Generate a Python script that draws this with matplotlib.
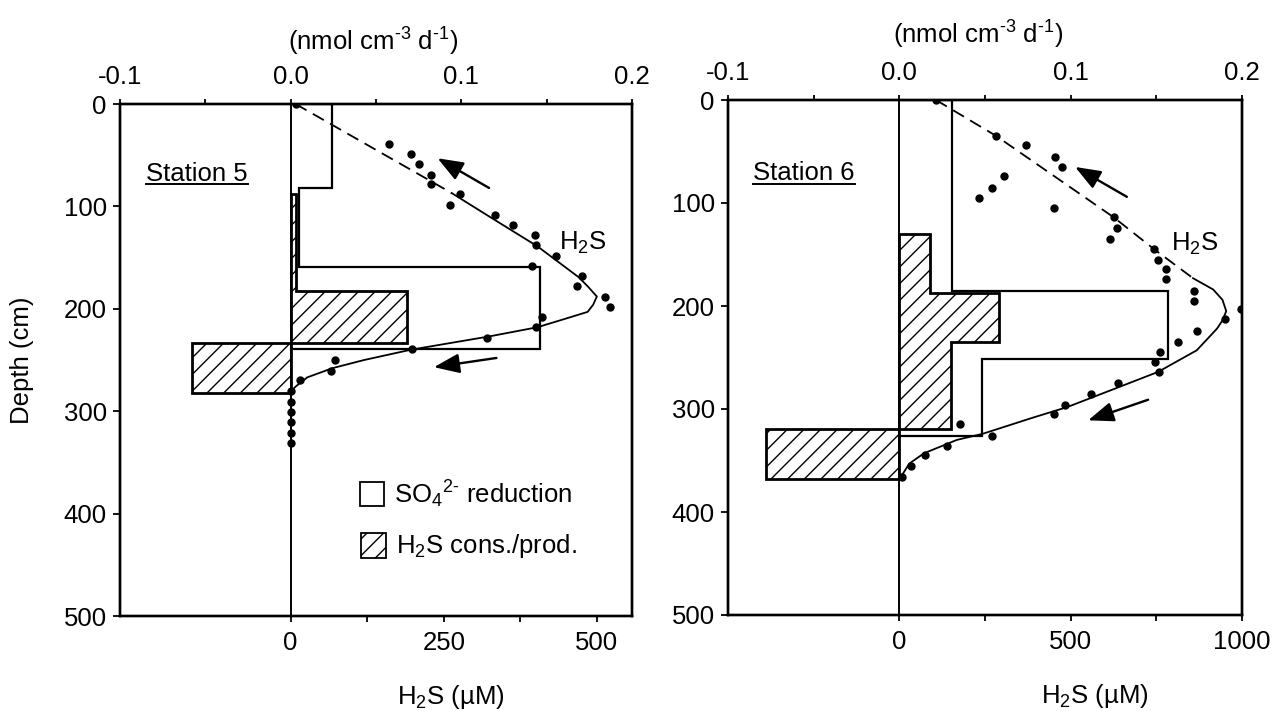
import matplotlib
matplotlib.use('Agg')
import matplotlib.pyplot as plt
from matplotlib.lines import Line2D
from matplotlib.patches import Rectangle

plt.rcParams['font.family'] = ['Liberation Sans', 'DejaVu Sans']
plt.rcParams['mathtext.fontset'] = 'custom'
plt.rcParams['mathtext.rm'] = 'Liberation Sans'
plt.rcParams['mathtext.it'] = 'Liberation Sans:italic'
plt.rcParams['mathtext.bf'] = 'Liberation Sans:bold'
plt.rcParams['mathtext.sf'] = 'Liberation Sans'
plt.rcParams['mathtext.default'] = 'regular'
plt.rcParams['axes.unicode_minus'] = False
plt.rcParams['hatch.linewidth'] = 1.0

# ------------------------------------------------------------------ data
depth_ticks = [0, 100, 200, 300, 400, 500]
rate_ticks = [-0.1, 0.0, 0.1, 0.2]
rate_ticklabels = ['-0.1', '0.0', '0.1', '0.2']
rate_minor = [-0.05, 0.05, 0.15]

# Station 5
s5_name = 'Station 5'
s5_h2s_ticks = [0, 250, 500]
s5_h2s_minor = [125, 375]
s5_pts_depth = [0, 39, 49, 59, 69, 78, 88, 99, 108, 118, 128, 138, 148, 158, 168,
                178, 188, 198, 208, 218, 229, 239, 250, 261, 270, 280, 291, 301,
                311, 321, 331]
s5_pts_h2s = [8, 161, 196, 210, 229, 229, 276, 261, 334, 363, 399, 401, 434, 394,
              475, 468, 514, 521, 410, 401, 321, 198, 73, 66, 16, 0, 0, 0, 0, 0, 0]
s5_dash_depth = [0, 87]
s5_dash_h2s = [8, 263]
s5_fit_depth = [87, 112, 139, 169, 178, 188, 196, 203, 210, 218, 227, 240, 250,
                258, 267, 276, 281]
s5_fit_h2s = [263, 330, 403, 470, 485, 500, 494, 485, 447, 403, 324, 196, 120,
              68, 27, 8, 0]
s5_so4_bounds = [0, 82, 159, 239]
s5_so4_rate = [0.024, 0.005, 0.146]
s5_prod_bounds = [88, 183, 233, 282]
s5_prod_rate = [0.003, 0.068, -0.058]

# Station 6
s6_name = 'Station 6'
s6_h2s_ticks = [0, 500, 1000]
s6_h2s_minor = [250, 750]
s6_pts_depth = [0, 35, 44, 55, 65, 74, 85, 95, 105, 114, 124, 135, 145, 155, 164,
                174, 185, 195, 203, 213, 224, 235, 245, 254, 264, 275, 285, 296,
                305, 315, 326, 336, 345, 355, 366]
s6_pts_h2s = [107, 283, 370, 454, 475, 304, 269, 233, 451, 626, 635, 615, 744, 755,
              777, 777, 861, 861, 997, 951, 870, 814, 760, 746, 758, 637, 559, 483,
              451, 177, 271, 138, 75, 34, 9]
s6_dash_depth = [0, 35, 114, 145, 173]
s6_dash_h2s = [107, 283, 626, 744, 857]
s6_fit_depth = [173, 184, 194, 205, 214, 222, 243, 264, 280, 298, 309, 324, 330,
                343, 353, 362, 367]
s6_fit_h2s = [857, 916, 943, 954, 943, 927, 868, 755, 631, 491, 384, 244, 168,
              72, 29, 12, 0]
s6_so4_bounds = [0, 185, 251, 326]
s6_so4_rate = [0.031, 0.157, 0.048]
s6_prod_bounds = [130, 187, 235, 319, 368]
s6_prod_rate = [0.018, 0.058, 0.030, -0.078]

FS = 18.5


def step_xy(bounds, rates):
    xs = [0.0]
    ys = [bounds[0]]
    for i, r in enumerate(rates):
        xs += [r, r]
        ys += [bounds[i], bounds[i + 1]]
    xs.append(0.0)
    ys.append(bounds[-1])
    return xs, ys


fig = plt.figure(figsize=(12.75, 7.11), dpi=100)

TOP_LABEL = r'(nmol cm$^{\text{-3}}$ d$^{\text{-1}}$)'


def panel(rect, h2s_lim, h2s_ticks, h2s_minor, pts_d, pts_c, dash_d, dash_c,
          fit_d, fit_c, so4_b, so4_r, prod_b, prod_r, name, name_xy,
          h2s_text_xy, arrows, xlabel_x, toplabel_xy, ylabel):
    ax = fig.add_axes(rect)
    ax2 = ax.twiny()
    ax.set_zorder(ax2.get_zorder() + 1)
    ax.patch.set_visible(False)

    # rate axis (top)
    ax2.set_xlim(-0.1, 0.2)
    ax2.set_ylim(500, 0)
    xs, ys = step_xy(so4_b, so4_r)
    ax2.plot(xs, ys, color='black', lw=1.6, solid_joinstyle='miter')
    xs, ys = step_xy(prod_b, prod_r)
    ax2.fill(xs, ys, facecolor='white', edgecolor='black', hatch='//', lw=2.0)
    ax2.set_xticks(rate_ticks)
    ax2.set_xticklabels(rate_ticklabels)
    ax2.set_xticks(rate_minor, minor=True)
    ax2.tick_params(axis='x', which='both', direction='out', length=3.5,
                    width=1.3, labelsize=FS, pad=7)
    ax2.set_xlabel(TOP_LABEL, fontsize=FS)
    ax2.xaxis.set_label_coords(*toplabel_xy)

    # concentration axis (bottom)
    ax.set_xlim(*h2s_lim)
    ax.set_ylim(500, 0)
    ax.axvline(0, color='black', lw=1.4)
    ax.plot(dash_c, dash_d, color='black', lw=1.3, linestyle=(0, (7, 4)))
    ax.plot(fit_c, fit_d, color='black', lw=1.3)
    ax.plot(pts_c, pts_d, 'o', color='black', ms=5, linestyle='none')
    ax.set_xticks(h2s_ticks)
    ax.set_xticks(h2s_minor, minor=True)
    ax.set_yticks(depth_ticks)
    ax.tick_params(axis='x', which='both', direction='out', length=4.5,
                   width=1.3, labelsize=FS, pad=6.5)
    ax.tick_params(axis='y', direction='out', length=5, width=1.3,
                   labelsize=FS, pad=4.5)
    ax.tick_params(top=False, right=False)
    ax.set_xlabel('H$_2$S (µM)', fontsize=FS)
    ax.xaxis.set_label_coords(xlabel_x, -0.13)
    if ylabel:
        ax.set_ylabel('Depth (cm)', fontsize=FS)
        ax.yaxis.set_label_coords(-0.168, 0.5)
    for a in (ax, ax2):
        for s in a.spines.values():
            s.set_linewidth(1.7)

    # annotations
    ax.text(h2s_text_xy[0], h2s_text_xy[1], 'H$_2$S', fontsize=FS,
            ha='left', va='baseline')
    for (tx, ty, hx, hy) in arrows:
        ax.annotate('', xy=(hx, hy), xytext=(tx, ty),
                    arrowprops=dict(arrowstyle='-|>,head_length=1.3,head_width=0.5',
                                    mutation_scale=12, lw=1.7, color='black',
                                    shrinkA=0, shrinkB=0))
    t = ax.text(name_xy[0], name_xy[1], name, fontsize=FS, ha='left',
                va='baseline', transform=ax.transAxes)
    return ax, t


ax5, t5 = panel([120 / 1275, 95 / 711, 512 / 1275, 512 / 711],
                (-278.7, 557.4), s5_h2s_ticks, s5_h2s_minor,
                s5_pts_depth, s5_pts_h2s, s5_dash_depth, s5_dash_h2s,
                s5_fit_depth, s5_fit_h2s, s5_so4_bounds, s5_so4_rate,
                s5_prod_bounds, s5_prod_rate, s5_name, (0.0516, 0.8496),
                (438, 142), [(324, 82, 240, 53), (336, 248, 234, 257)],
                0.646, (0.494, 1.105), True)

ax6, t6 = panel([728 / 1275, 96 / 711, 514 / 1275, 515 / 711],
                (-500, 1000), s6_h2s_ticks, s6_h2s_minor,
                s6_pts_depth, s6_pts_h2s, s6_dash_depth, s6_dash_h2s,
                s6_fit_depth, s6_fit_h2s, s6_so4_bounds, s6_so4_rate,
                s6_prod_bounds, s6_prod_rate, s6_name, (0.049, 0.8437),
                (793, 146), [(664, 94, 513, 65), (726, 291, 551, 311)],
                0.714, (0.486, 1.110), False)

# legend (left panel)
ax5.add_patch(Rectangle((0.468, 0.2154), 0.0475, 0.0469, transform=ax5.transAxes,
                        facecolor='white', edgecolor='black', lw=1.3))
ax5.add_patch(Rectangle((0.470, 0.1127), 0.0488, 0.0488, transform=ax5.transAxes,
                        facecolor='white', edgecolor='black', lw=1.3, hatch='//'))
ax5.text(0.536, 0.2201, r'SO$_4$$^{\text{2-}}$ reduction', fontsize=FS, ha='left',
         va='baseline', transform=ax5.transAxes)
ax5.text(0.540, 0.1225, 'H$_2$S cons./prod.', fontsize=FS, ha='left',
         va='baseline', transform=ax5.transAxes)

# underline the station names
fig.canvas.draw()
r = fig.canvas.get_renderer()
for ax, t in ((ax5, t5), (ax6, t6)):
    bb = t.get_window_extent(renderer=r).transformed(ax.transAxes.inverted())
    y0 = t.get_position()[1] - 0.006
    ax.add_line(Line2D([bb.x0, bb.x1], [y0, y0], transform=ax.transAxes,
                       color='black', lw=1.4))

fig.savefig('out.png', dpi=100)
